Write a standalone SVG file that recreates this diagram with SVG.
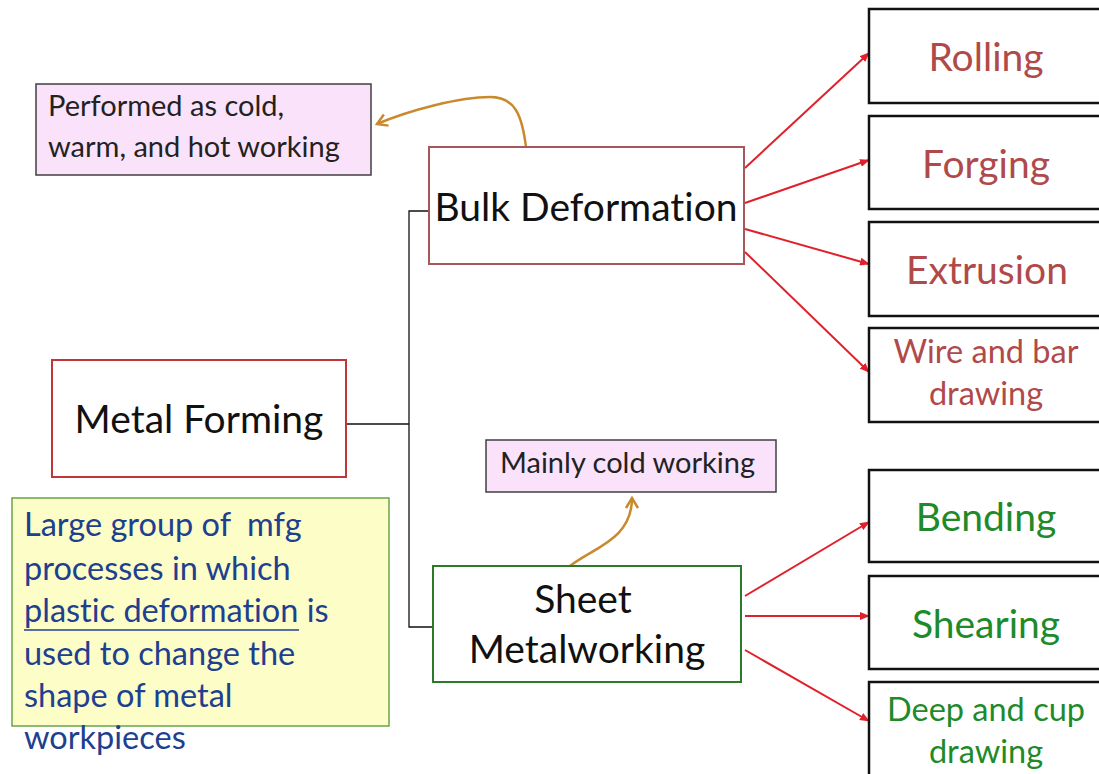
<svg xmlns="http://www.w3.org/2000/svg" width="1099" height="774" viewBox="0 0 1099 774">
  <style>
    text { font-family: Lato, "Open Sans", "Liberation Sans", sans-serif; font-variant-ligatures: none; font-feature-settings: "liga" 0, "clig" 0, "dlig" 0; }
    .box { fill: #ffffff; stroke-width: 2; }
    .leaf { fill: #ffffff; stroke: #111111; stroke-width: 2.5; }
    .note { fill: #fbe2fb; stroke: #404040; stroke-width: 1.5; }
    .tree { fill: none; stroke: #111111; stroke-width: 1.3; }
    .red { fill: none; stroke: #e0212b; stroke-width: 2; marker-end: url(#redHead); }
    .orange { fill: none; stroke: #c98a2e; stroke-width: 2.5; marker-end: url(#orangeHead); }
    .bulk { fill: #b04a4a; }
    .sheet { fill: #1e8a2a; }
    .main { font-size: 39px; fill: #111111; text-anchor: middle; }
    .leafbig { font-size: 39px; text-anchor: middle; }
    .leafsmall { font-size: 32.5px; text-anchor: middle; }
    .notetext { font-size: 29px; fill: #222222; }
  </style>
  <defs>
    <marker id="redHead" markerWidth="10" markerHeight="8" refX="9" refY="4" orient="auto" markerUnits="userSpaceOnUse">
      <path d="M0,0 L10,4 L0,8 Z" fill="#e0212b"/>
    </marker>
    <marker id="orangeHead" markerWidth="14" markerHeight="14" refX="12" refY="7" orient="auto" markerUnits="userSpaceOnUse">
      <path d="M2,1 L12,7 L2,13" fill="none" stroke="#c98a2e" stroke-width="2.5"/>
    </marker>
  </defs>
  <rect width="1099" height="774" fill="#ffffff"/>

  <!-- connectors -->
  <g id="connectors">
    <polyline class="tree" points="346,424 409,424"/>
    <polyline class="tree" points="429,211 409,211 409,627 433,627"/>
    <line class="red" x1="745" y1="168" x2="869" y2="53"/>
    <line class="red" x1="745" y1="203" x2="869" y2="160"/>
    <line class="red" x1="745" y1="229" x2="869" y2="264"/>
    <line class="red" x1="745" y1="252" x2="869" y2="372"/>
    <line class="red" x1="745" y1="596" x2="869" y2="522"/>
    <line class="red" x1="745" y1="616" x2="869" y2="616"/>
    <line class="red" x1="745" y1="650" x2="869" y2="721"/>
    <path class="orange" d="M526,147 C522,115 515,97 490,97 C460,97 410,110 377,124"/>
    <path class="orange" d="M570,566 C592,548 632,540 632,498"/>
  </g>

  <!-- notes -->
  <g id="note-bulk">
    <rect class="note" x="36" y="84" width="335" height="91"/>
    <text class="notetext" x="48" y="116">Performed as cold,</text>
    <text class="notetext" x="48" y="157">warm, and hot working</text>
  </g>
  <g id="note-sheet">
    <rect class="note" x="486" y="440" width="290" height="52"/>
    <text class="notetext" x="500" y="473">Mainly cold working</text>
  </g>
  <g id="note-definition">
    <rect x="12" y="498" width="377" height="228" fill="#fdfdc8" stroke="#6aa34a" stroke-width="1.5"/>
    <g font-size="32.5" fill="#203f8f">
      <text x="24" y="536" style="white-space: pre">Large group of  mfg</text>
      <text x="24" y="580">processes in which</text>
      <text x="24" y="622">plastic deformation is</text>
      <text x="24" y="665">used to change the</text>
      <text x="24" y="707">shape of metal</text>
      <text x="24" y="749">workpieces</text>
    </g>
    <line x1="24" y1="630" x2="299" y2="630" stroke="#203f8f" stroke-width="1.5"/>
  </g>

  <!-- main nodes -->
  <g id="metal-forming">
    <rect class="box" x="52" y="360" width="294" height="117" stroke="#c0363a"/>
    <text class="main" x="199" y="433">Metal Forming</text>
  </g>
  <g id="bulk-deformation">
    <rect class="box" x="429" y="147" width="315" height="117" stroke="#a8565a"/>
    <text class="main" x="586" y="221">Bulk Deformation</text>
  </g>
  <g id="sheet-metalworking">
    <rect class="box" x="433" y="566" width="308" height="116" stroke="#2a7a2a"/>
    <text class="main" x="583" y="613">Sheet</text>
    <text class="main" x="587" y="663">Metalworking</text>
  </g>

  <!-- bulk deformation processes -->
  <g id="rolling">
    <rect class="leaf" x="869" y="9" width="240" height="94"/>
    <text class="bulk leafbig" x="986" y="71">Rolling</text>
  </g>
  <g id="forging">
    <rect class="leaf" x="869" y="116" width="240" height="93"/>
    <text class="bulk leafbig" x="986" y="178">Forging</text>
  </g>
  <g id="extrusion">
    <rect class="leaf" x="869" y="222" width="240" height="94"/>
    <text class="bulk leafbig" x="987" y="284">Extrusion</text>
  </g>
  <g id="wire-bar-drawing">
    <rect class="leaf" x="869" y="328" width="240" height="94"/>
    <text class="bulk leafsmall" x="986" y="363">Wire and bar</text>
    <text class="bulk leafsmall" x="986" y="405">drawing</text>
  </g>

  <!-- sheet metalworking processes -->
  <g id="bending">
    <rect class="leaf" x="869" y="470" width="240" height="92"/>
    <text class="sheet leafbig" x="986" y="531">Bending</text>
  </g>
  <g id="shearing">
    <rect class="leaf" x="869" y="576" width="240" height="93"/>
    <text class="sheet leafbig" x="986" y="638">Shearing</text>
  </g>
  <g id="deep-cup-drawing">
    <rect class="leaf" x="869" y="682" width="240" height="100"/>
    <text class="sheet leafsmall" x="986" y="721">Deep and cup</text>
    <text class="sheet leafsmall" x="986" y="763">drawing</text>
  </g>
</svg>
